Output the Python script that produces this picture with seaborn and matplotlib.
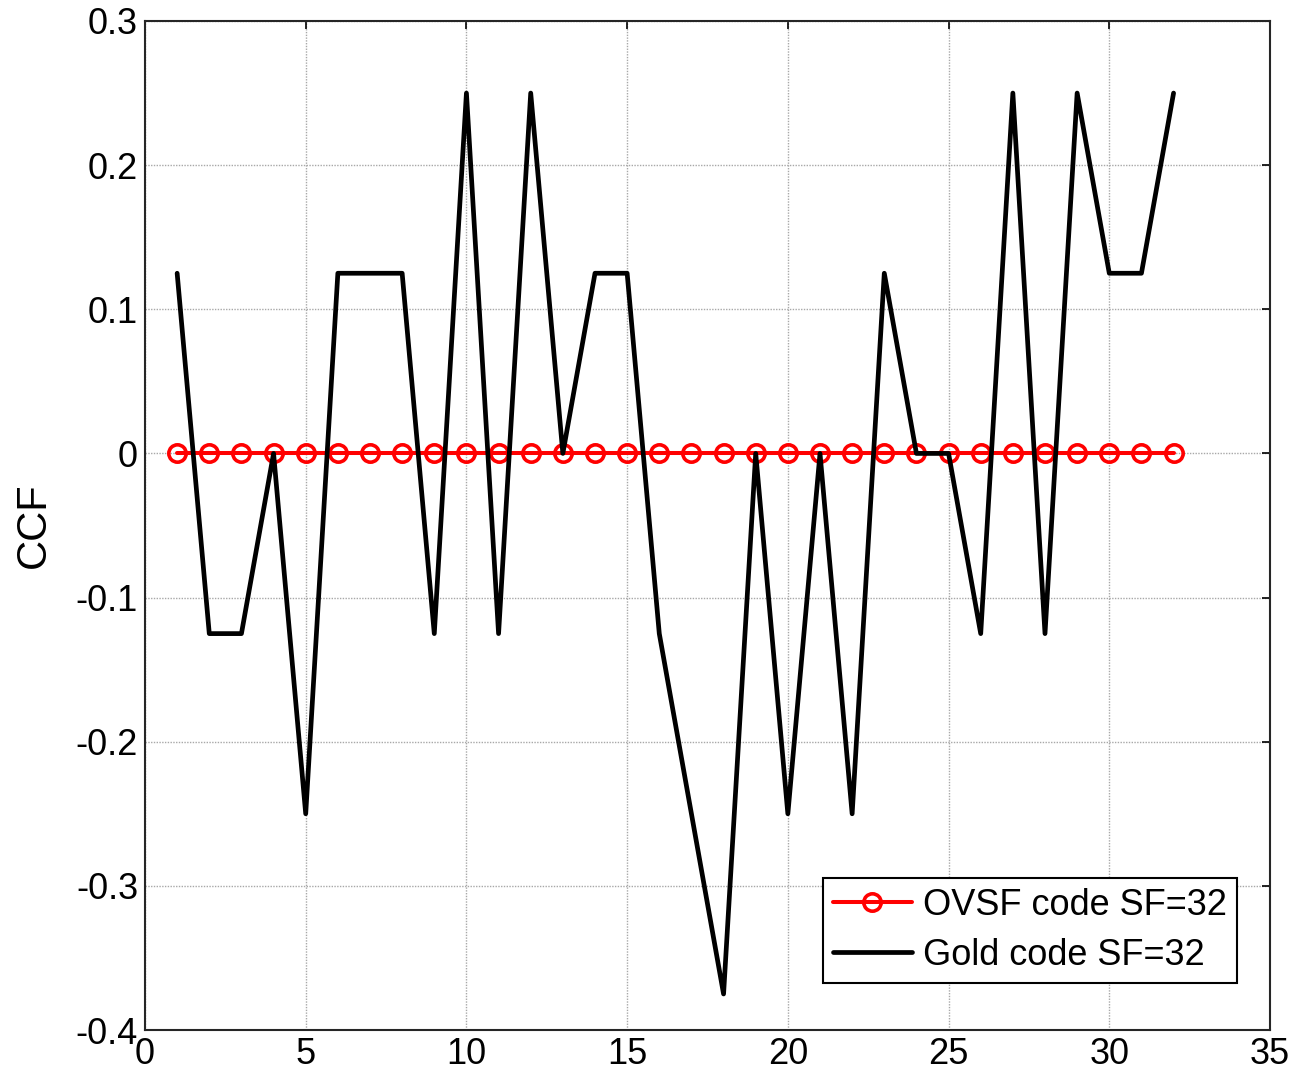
import numpy as np
import pandas as pd
import matplotlib
matplotlib.use("Agg")
import matplotlib.pyplot as plt
import seaborn as sns

# Code index (shift) and cross-correlation values
shift = list(range(1, 33))
ovsf_ccf = [0.0] * 32
gold_ccf = [0.125, -0.125, -0.125, 0.0, -0.25, 0.125, 0.125, 0.125,
            -0.125, 0.25, -0.125, 0.25, 0.0, 0.125, 0.125, -0.125,
            -0.25, -0.375, 0.0, -0.25, 0.0, -0.25, 0.125, 0.0,
            0.0, -0.125, 0.25, -0.125, 0.25, 0.125, 0.125, 0.25]
series_names = ["OVSF code SF=32", "Gold code SF=32"]
x_ticks = [0, 5, 10, 15, 20, 25, 30, 35]
y_ticks = [-0.4, -0.3, -0.2, -0.1, 0, 0.1, 0.2, 0.3]
y_tick_labels = ["-0.4", "-0.3", "-0.2", "-0.1", "0", "0.1", "0.2", "0.3"]

sns.set_theme(style="white")
plt.rcParams["font.family"] = ["Liberation Sans", "DejaVu Sans"]
for key in ("text.color", "axes.labelcolor", "xtick.color", "ytick.color"):
    plt.rcParams[key] = "black"

W, H = 1309, 1074
ax_left, ax_right, ax_top, ax_bottom = 145, 1270, 21, 1030

fig = plt.figure(figsize=(W / 100, H / 100), dpi=100)
ax = fig.add_axes([ax_left / W, 1 - ax_bottom / H,
                   (ax_right - ax_left) / W, (ax_bottom - ax_top) / H])

ovsf_df = pd.DataFrame({"shift": shift, "CCF": ovsf_ccf})
gold_df = pd.DataFrame({"shift": shift, "CCF": gold_ccf})

sns.lineplot(data=ovsf_df, x="shift", y="CCF", ax=ax, color="#ff0000",
             linewidth=2.9, marker="o", markersize=12.5, markerfacecolor="none",
             markeredgecolor="#ff0000", markeredgewidth=2.6,
             label=series_names[0], zorder=3)
sns.lineplot(data=gold_df, x="shift", y="CCF", ax=ax, color="black",
             linewidth=3.4, label=series_names[1], zorder=4)

ax.set_xlim(0, 35)
ax.set_ylim(-0.4, 0.3)
ax.set_xticks(x_ticks)
ax.set_yticks(y_ticks)
ax.set_yticklabels(y_tick_labels)
ax.set_xlabel("")
ax.set_ylabel("CCF", fontsize=30, labelpad=16)

ax.grid(True, color="#a8a8a8", linestyle=(0, (1, 1)), linewidth=1.0)
ax.tick_params(axis="both", direction="in", length=6, width=1.2, color="black",
               labelsize=26, top=True, right=True, pad=5)
for spine in ax.spines.values():
    spine.set_visible(True)
    spine.set_color("#262626")
    spine.set_linewidth(1.5)

# legend box: right edge at x=1237 px, bottom edge at y=983 px
anchor = ((1237 - ax_left) / (ax_right - ax_left),
          (ax_bottom - 983) / (ax_bottom - ax_top))
leg = ax.legend(loc="lower right", bbox_to_anchor=anchor, borderaxespad=0,
                fontsize=26, frameon=True, fancybox=False, framealpha=1,
                edgecolor="black", handlelength=2.2, handletextpad=0.3,
                borderpad=0.28, labelspacing=0.42)
leg.get_frame().set_linewidth(1.5)

fig.savefig("out.png", dpi=100, facecolor="white")
